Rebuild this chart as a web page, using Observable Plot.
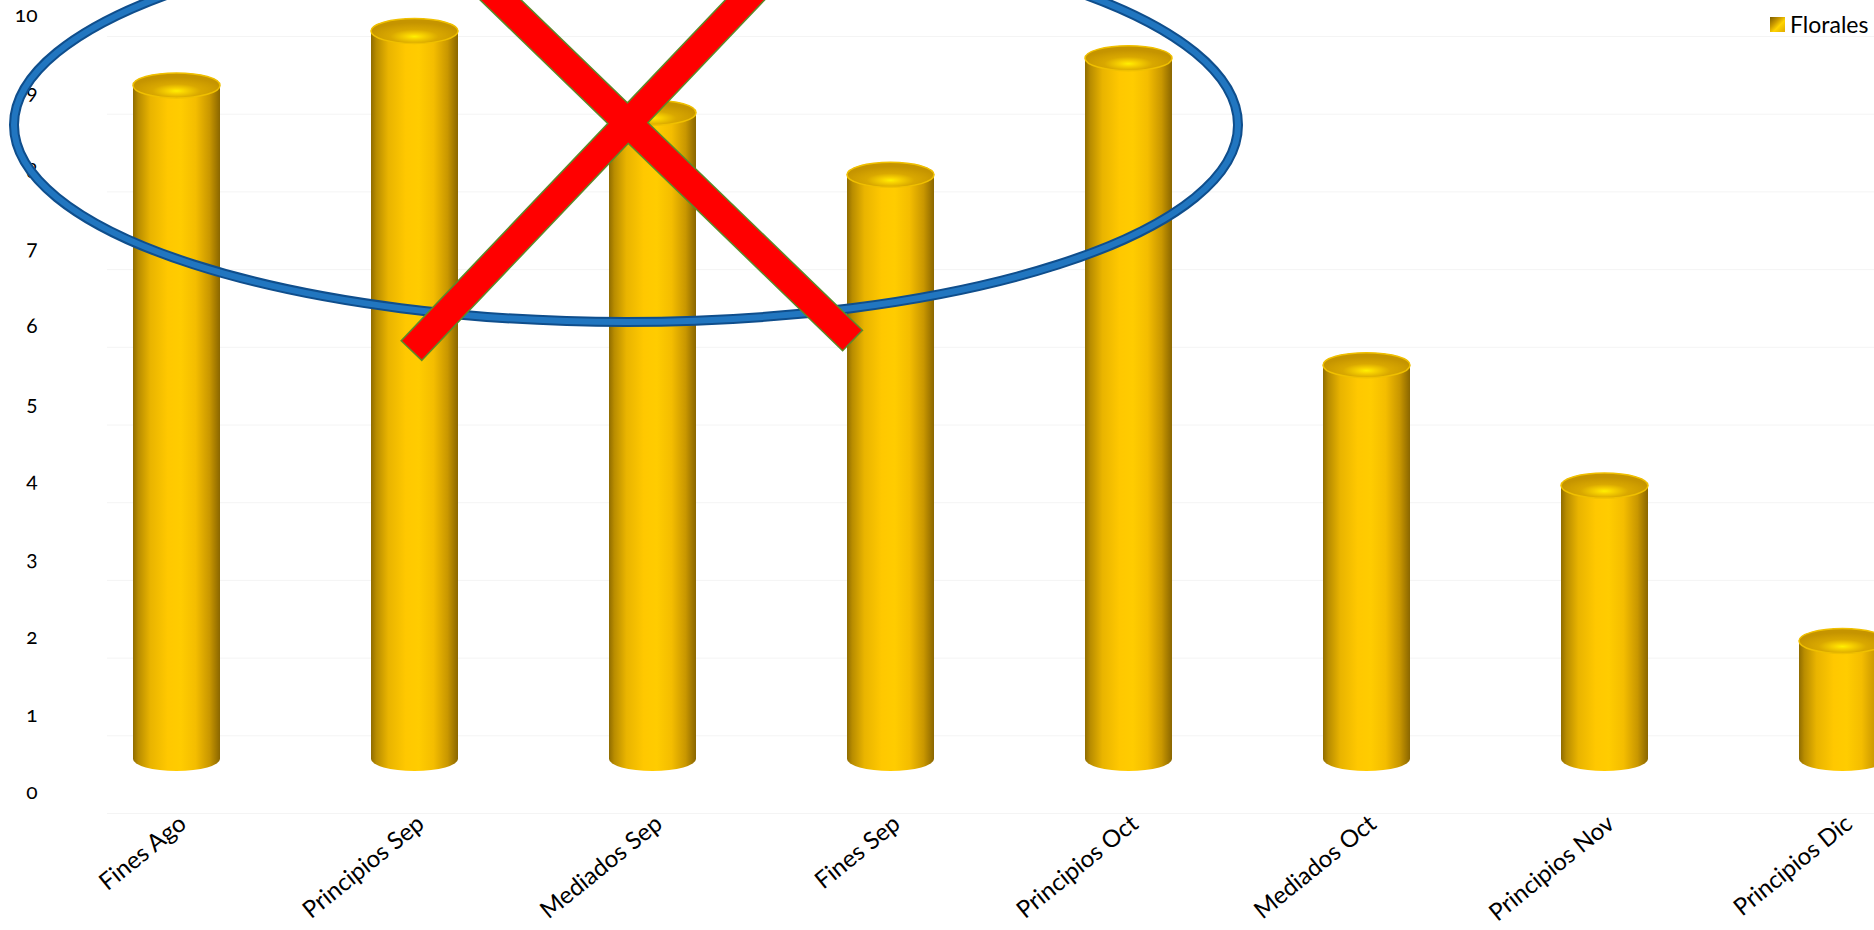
<!DOCTYPE html>
<html><head><meta charset="utf-8">
<script src="https://cdn.jsdelivr.net/npm/d3@7"></script>
<script src="https://cdn.jsdelivr.net/npm/@observablehq/plot@0.6"></script>
<style>
html,body{margin:0;padding:0;background:#fff;overflow:hidden;width:1874px;height:930px}
#wrap{position:relative;width:1874px;height:930px;overflow:hidden}
#chart svg{max-width:none !important}
#legend{position:absolute;left:1770px;top:10px;font:23px Lato, sans-serif;display:flex;align-items:center;white-space:nowrap;color:#000}
#legend .sw{display:inline-block;width:15px;height:15px;background:linear-gradient(135deg,#7a5c00 0%,#c99800 35%,#ffd400 60%,#e0ab00 100%);margin-right:5px}
svg text{font-variant-numeric:oldstyle-nums}
</style></head><body>
<div id="wrap"><div id="chart"></div><div id="legend"><span class="sw"></span><span id="lt"></span></div></div>
<script>
// ---- data ----
const categories = ["Fines Ago","Principios Sep","Mediados Sep","Fines Sep","Principios Oct","Mediados Oct","Principios Nov","Principios Dic"];
const values = [9.1, 9.8, 8.75, 7.95, 9.45, 5.5, 3.95, 1.95];
const yTicks = [0,1,2,3,4,5,6,7,8,9,10];
const seriesName = "Florales";

const data = categories.map((c, i) => ({periodo: c, valor: values[i]}));
document.getElementById("lt").textContent = seriesName;

const chart = Plot.plot({
  width: 1961, height: 930,
  marginLeft: 57, marginRight: 0, marginTop: 15, marginBottom: 138,
  style: {fontFamily: "Lato, sans-serif", fontSize: "21px", color: "#000", background: "transparent", overflow: "visible", maxWidth: "none"},
  x: {domain: categories, paddingInner: 0.635, paddingOuter: 0.3175, label: null},
  y: {domain: [0, 10], label: null},
  marks: [
    Plot.ruleY(yTicks, {dy: 21, insetLeft: 50, stroke: "#f4f4f4", strokeWidth: 1}),
    Plot.barY(data, {x: "periodo", y: "valor", fill: "url(#cyl)", insetBottom: 21, insetTop: -12, rx: 43.5, ry: 12}),
    Plot.barY(data, {x: "periodo", y1: "valor", y2: "valor", fill: "url(#cap)", stroke: "#f0c000", strokeWidth: 1.5, insetTop: -12, insetBottom: -13, rx: 43.5, ry: 12.5}),
    Plot.axisY({ticks: yTicks, tickSize: 0, tickPadding: 20, fontSize: 21}),
    Plot.axisX({tickSize: 0, tickRotate: -39, tickPadding: 28, dx: 6, fontSize: 24})
  ]
});
chart.style.maxWidth = "none";
document.getElementById("chart").appendChild(chart);

// ---- gradients for the cylinder look ----
const svg = d3.select(chart);
const defs = svg.insert("defs", ":first-child");
const lg = defs.append("linearGradient").attr("id", "cyl").attr("x1", 0).attr("x2", 1).attr("y1", 0).attr("y2", 0);
[[0, "#8f6c00"], [0.06, "#b88c00"], [0.2, "#e9b400"], [0.4, "#ffc800"], [0.55, "#ffcc00"], [0.72, "#f4bd00"], [0.88, "#c99700"], [1, "#8a6600"]]
  .forEach(([o, c]) => lg.append("stop").attr("offset", o).attr("stop-color", c));
const rg = defs.append("radialGradient").attr("id", "cap").attr("cx", 0.5).attr("cy", 0.72).attr("r", 0.55);
[[0, "#fff000"], [0.18, "#f8d200"], [0.5, "#d9a800"], [1, "#c59400"]]
  .forEach(([o, c]) => rg.append("stop").attr("offset", o).attr("stop-color", c));

// ---- annotations (blue ellipse and red cross) ----
const ann = svg.append("g");
ann.append("ellipse").attr("cx", 626).attr("cy", 125).attr("rx", 612).attr("ry", 197)
  .attr("fill", "none").attr("stroke", "#0f4e8c").attr("stroke-width", 10);
ann.append("ellipse").attr("cx", 626).attr("cy", 125).attr("rx", 612).attr("ry", 197)
  .attr("fill", "none").attr("stroke", "#2176c0").attr("stroke-width", 6);
function bandPoly(x1, y1, x2, y2, w) {
  const dx = x2 - x1, dy = y2 - y1, L = Math.hypot(dx, dy);
  const nx = -dy / L * w / 2, ny = dx / L * w / 2;
  return [[x1 + nx, y1 + ny], [x2 + nx, y2 + ny], [x2 - nx, y2 - ny], [x1 - nx, y1 - ny]].map(p => p.join(",")).join(" ");
}
const strokes = [[412, 350, 764, -20], [852, 340, 480, -20]];
strokes.forEach(s => ann.append("polygon").attr("points", bandPoly(...s, 27)).attr("fill", "#ff0000").attr("stroke", "#5b8a2a").attr("stroke-width", 3));
strokes.forEach(s => ann.append("polygon").attr("points", bandPoly(...s, 27)).attr("fill", "#ff0000"));
</script>
</body></html>
